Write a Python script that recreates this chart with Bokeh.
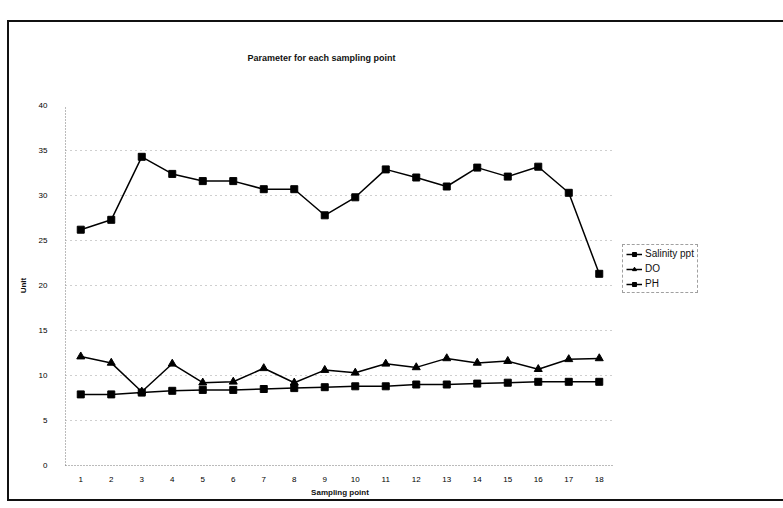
from bokeh.plotting import figure
from bokeh.models import Legend, LegendItem, FixedTicker, Range1d, Title
from bokeh.embed import file_html
from bokeh.resources import INLINE

# ---- data ----
points = list(range(1, 19))
salinity = [26.2, 27.3, 34.3, 32.4, 31.6, 31.6, 30.7, 30.7, 27.8, 29.8,
            32.9, 32.0, 31.0, 33.1, 32.1, 33.2, 30.3, 21.3]
do_vals = [12.1, 11.4, 8.2, 11.3, 9.2, 9.3, 10.8, 9.2, 10.6, 10.3,
           11.3, 10.9, 11.9, 11.4, 11.6, 10.7, 11.8, 11.9]
ph_vals = [7.9, 7.9, 8.1, 8.3, 8.4, 8.4, 8.5, 8.6, 8.7, 8.8,
           8.8, 9.0, 9.0, 9.1, 9.2, 9.3, 9.3, 9.3]
y_ticks = [0, 5, 10, 15, 20, 25, 30, 35, 40]
series_names = ["Salinity ppt", "DO", "PH"]
title_text = "Parameter for each sampling point"
x_title = "Sampling point"
y_title = "Unit"

FONT = "Liberation Sans"

p = figure(frame_width=549, frame_height=360, output_backend="svg",
           toolbar_location=None,
           x_range=Range1d(0.5, 18.5), y_range=Range1d(0, 40),
           min_border_left=56, min_border_right=171, min_border_top=83,
           min_border_bottom=28)
p.margin = (20, 0, 0, 7)
p.styles = {"border-left": "2px solid #111", "border-top": "2px solid #111",
            "border-bottom": "2px solid #111"}

p.outline_line_color = None
p.background_fill_color = "white"
p.border_fill_color = "white"

# main title, then a blank spacer title between it and the frame
p.title.text = title_text
p.title.text_font = FONT
p.title.text_font_size = "9px"
p.title.text_font_style = "bold"
p.title.text_color = "#111"
p.title.align = "left"
p.title.offset = 182
p.add_layout(Title(text=" ", text_font_size="23px"), "above")

p.xaxis.ticker = FixedTicker(ticks=points)
p.yaxis.ticker = FixedTicker(ticks=y_ticks)
for ax in (p.xaxis[0], p.yaxis[0]):
    ax.axis_line_color = "#777"
    ax.axis_line_dash = "1 2"
    ax.major_tick_line_color = None
    ax.minor_tick_line_color = None
    ax.major_label_text_font = FONT
    ax.major_label_text_font_size = "8px"
    ax.major_label_text_color = "#000"
    ax.axis_label_text_font = FONT
    ax.axis_label_text_font_size = "8px"
    ax.axis_label_text_font_style = "bold"
    ax.axis_label_text_color = "#111"
p.xaxis.axis_label = x_title
p.yaxis.axis_label = y_title
p.xaxis.major_label_standoff = 5
p.xaxis.axis_label_standoff = 3
p.yaxis.major_label_standoff = 12
p.yaxis.axis_label_standoff = 8

p.xgrid.grid_line_color = None
p.ygrid.grid_line_color = "#888"
p.ygrid.grid_line_dash = "1 4"
p.ygrid.grid_line_alpha = 0.8

r1l = p.line(points, salinity, line_color="black", line_width=1.5)
r1m = p.scatter(points, salinity, marker="square", size=7, color="black")
r2l = p.line(points, do_vals, line_color="black", line_width=1.5)
r2m = p.scatter(points, do_vals, marker="triangle", size=8, color="black")
r3l = p.line(points, ph_vals, line_color="black", line_width=1.5)
r3m = p.scatter(points, ph_vals, marker="square", size=7, color="black")

legend = Legend(items=[
    LegendItem(label=series_names[0], renderers=[r1l, r1m]),
    LegendItem(label=series_names[1], renderers=[r2l, r2m]),
    LegendItem(label=series_names[2], renderers=[r3l, r3m]),
], location=(8, 172))
legend.label_text_font = FONT
legend.label_text_font_size = "10px"
legend.label_text_color = "#111"
legend.glyph_width = 16
legend.glyph_height = 10
legend.label_height = 10
legend.label_standoff = 3
legend.spacing = 4
legend.padding = 3
legend.margin = 0
legend.border_line_color = "#444"
legend.border_line_dash = "1 2"
p.add_layout(legend, "right")

open("out.html", "w").write(file_html(p, INLINE))
